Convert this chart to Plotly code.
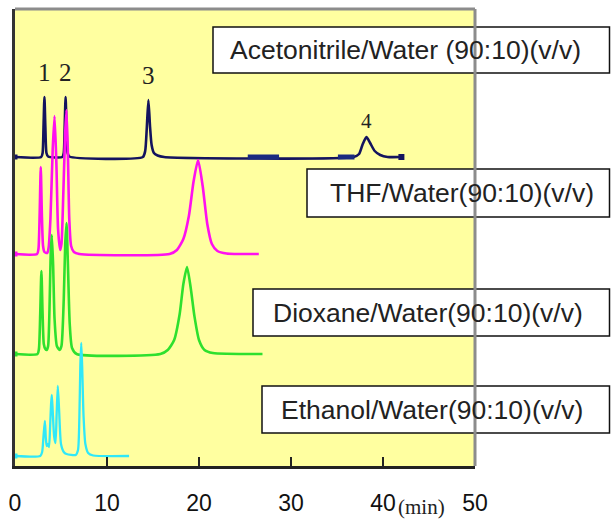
import plotly.graph_objects as go

# ---------------- data ----------------
# time axis in minutes, signal in arbitrary units (detector response)
acn_t = [0, 2.85, 3.0, 3.1, 3.2, 3.3, 3.42, 3.6, 5.15, 5.3, 5.4, 5.5, 5.6, 5.72, 5.9,
         13.9, 14.15, 14.32, 14.5, 14.68, 14.85, 15.1, 15.5, 16.2,
         36.8, 37.4, 37.8, 38.2, 38.6, 39.1, 39.7, 40.5, 42]
acn_s = [0, 0, 4, 30, 60, 30, 4, 0.5, 0, 4, 30, 60, 30, 4, 0.5,
         0, 6, 28, 57, 30, 12, 4, 1.5, 0,
         0, 3, 13, 20, 14, 6, 2, 0, 0]
acn_thick = [[25.3, 28.7], [35.1, 36.9]]   # heavier baseline segments

thf_t = [0, 2.4, 2.55, 2.68, 2.8, 2.92, 3.05, 3.2, 3.5, 3.65, 3.85, 4.1, 4.3, 4.5,
         4.68, 4.9, 5.05, 5.25, 5.45, 5.6, 5.75, 5.9, 6.1, 6.4, 7.0,
         16.8, 17.6, 18.3, 18.9, 19.4, 19.9, 20.4, 20.9, 21.4, 22.0, 23.0, 26.5]
thf_s = [0, 0, 5, 40, 87, 40, 8, 2, 1, 6, 35, 105, 138, 90,
         25, 4, 10, 60, 120, 144, 100, 35, 8, 2, 0,
         0, 4, 15, 38, 72, 94, 68, 30, 10, 3, 0.5, 0]

dio_t = [0, 2.45, 2.6, 2.74, 2.87, 3.0, 3.13, 3.3, 3.45, 3.6, 3.75, 3.88, 4.0, 4.14,
         4.3, 4.55, 4.85, 5.05, 5.3, 5.46, 5.6, 5.75, 5.95, 6.2, 6.7,
         15.8, 16.6, 17.3, 17.9, 18.3, 18.7, 19.1, 19.5, 20.0, 20.6, 21.5, 26.9]
dio_s = [0, 0, 5, 40, 83, 40, 10, 5, 4, 8, 45, 100, 119, 90,
         35, 8, 4, 8, 55, 110, 131, 90, 30, 6, 0,
         0, 4, 14, 40, 70, 87, 66, 38, 14, 4, 1, 0]

eth_t = [0, 2.75, 2.95, 3.1, 3.25, 3.35, 3.45, 3.58, 3.7, 3.82, 3.92, 4.0, 4.1, 4.25,
         4.4, 4.52, 4.65, 4.8, 5.0, 5.3, 5.6, 6.6, 6.85, 7.0, 7.1, 7.2, 7.3, 7.45,
         7.65, 7.95, 8.5, 12.4]
eth_s = [0, 0, 4, 20, 35, 18, 10, 12, 9, 30, 52, 61, 45, 20,
         13, 40, 70, 45, 12, 4, 2, 1, 6, 40, 90, 113, 90, 40,
         12, 3, 0.5, 0]

# stacking offsets of the four chromatograms
offsets = {"acn": 309, "thf": 212, "dio": 112, "eth": 10}

solvent_labels = ["Acetonitrile/Water (90:10)(v/v)", "THF/Water(90:10)(v/v)",
                  "Dioxane/Water(90:10)(v/v)", "Ethanol/Water(90:10)(v/v)"]

peak_names = ["1", "2", "3", "4"]
peak_times = [3.2, 5.5, 14.5, 38.2]
peak_heights = [60, 60, 57, 20]

x_ticks = [0, 10, 20, 30, 40, 50]

# ---------------- figure ----------------
colors = {"acn": "#14145e", "thf": "#ff10f0", "dio": "#2ee02e", "eth": "#30e8f8"}
series = [("acn", acn_t, acn_s, 2.6), ("thf", thf_t, thf_s, 2.6),
          ("dio", dio_t, dio_s, 2.6), ("eth", eth_t, eth_s, 2.3)]

fig = go.Figure()
for key, t, s, w in series:
    off = offsets[key]
    fig.add_trace(go.Scatter(x=t, y=[v + off for v in s], mode="lines",
                             line=dict(color=colors[key], width=w, shape="spline",
                                       smoothing=0.6),
                             showlegend=False, hoverinfo="skip"))
    fig.add_trace(go.Scatter(x=[t[0]], y=[s[0] + off], mode="markers",
                             marker=dict(color=colors[key], size=5, symbol="square"),
                             showlegend=False, hoverinfo="skip"))
    if key == "acn":
        fig.add_trace(go.Scatter(x=[t[-1]], y=[s[-1] + off], mode="markers",
                                 marker=dict(color=colors[key], size=6, symbol="square"),
                                 showlegend=False, hoverinfo="skip"))
        for a, b in acn_thick:
            fig.add_trace(go.Scatter(x=[a, b], y=[off, off], mode="lines",
                                     line=dict(color="#1a2a80", width=5),
                                     showlegend=False, hoverinfo="skip"))

# peak labels
for i, (n, tt, hh) in enumerate(zip(peak_names, peak_times, peak_heights)):
    last = i == len(peak_names) - 1
    fig.add_annotation(x=tt, y=hh + offsets["acn"], xref="x", yref="y", text=n,
                       showarrow=False, yanchor="bottom", xanchor="center",
                       yshift=2 if last else 9,
                       font=dict(family="Liberation Serif", size=21 if last else 25,
                                 color="#222"))

# label boxes (pixel geometry of the plot area: x 15..475, y 9..466)
L, R, T, B = 15, 475, 9, 466
def px(xp):
    return (xp - L) / (R - L)
def py(yp):
    return (B - yp) / (B - T)

boxes = [(213, 27, 73, 228), (307, 169, 217, 328), (253, 289, 336, 271), (262, 386, 433, 279)]
for (bx, by0, by1, tx), lab in zip(boxes, solvent_labels):
    fig.add_shape(type="rect", xref="paper", yref="paper", x0=px(bx), x1=px(609.5),
                  y0=py(by1), y1=py(by0), line=dict(color="#111", width=1.5),
                  fillcolor="white", layer="above")
    fig.add_annotation(xref="paper", yref="paper", x=px(tx), y=py((by0 + by1) / 2),
                       xanchor="left", yanchor="middle", showarrow=False, text=lab,
                       font=dict(family="Liberation Sans", size=26.5, color="#222"))

# top and right grey frame
fig.add_shape(type="line", xref="paper", yref="paper", x0=0, x1=1, y0=1, y1=1,
              line=dict(color="#8c8c8c", width=3), layer="above")
fig.add_shape(type="line", xref="paper", yref="paper", x0=1, x1=1, y0=0, y1=1,
              line=dict(color="#8c8c8c", width=3), layer="above")

fig.add_annotation(xref="paper", yref="paper", x=px(421), y=py(507), text="(min)",
                   showarrow=False, xanchor="center", yanchor="middle",
                   font=dict(family="Liberation Serif", size=21, color="#222"))

fig.update_xaxes(range=[0, 50], showgrid=False, zeroline=False, showline=True,
                 linecolor="#222", linewidth=3, ticks="inside", ticklen=9, tickwidth=2,
                 tickcolor="#222", tickvals=x_ticks,
                 ticktext=[str(v) for v in x_ticks],
                 tickfont=dict(family="Liberation Sans", size=23, color="#111"),
                 ticklabelstandoff=14, automargin=False)
fig.update_yaxes(range=[0, B - T], showgrid=False, zeroline=False, showline=True,
                 linecolor="#333", linewidth=2.5, showticklabels=False, ticks="",
                 automargin=False)

fig.update_layout(width=612, height=521, margin=dict(l=L, r=612 - R, t=T, b=521 - B),
                  plot_bgcolor="#ffffa0", paper_bgcolor="white")

fig.write_html("out.html", config={"displayModeBar": False},
               post_script="document.body.style.margin='0';document.body.style.overflow='hidden';")
